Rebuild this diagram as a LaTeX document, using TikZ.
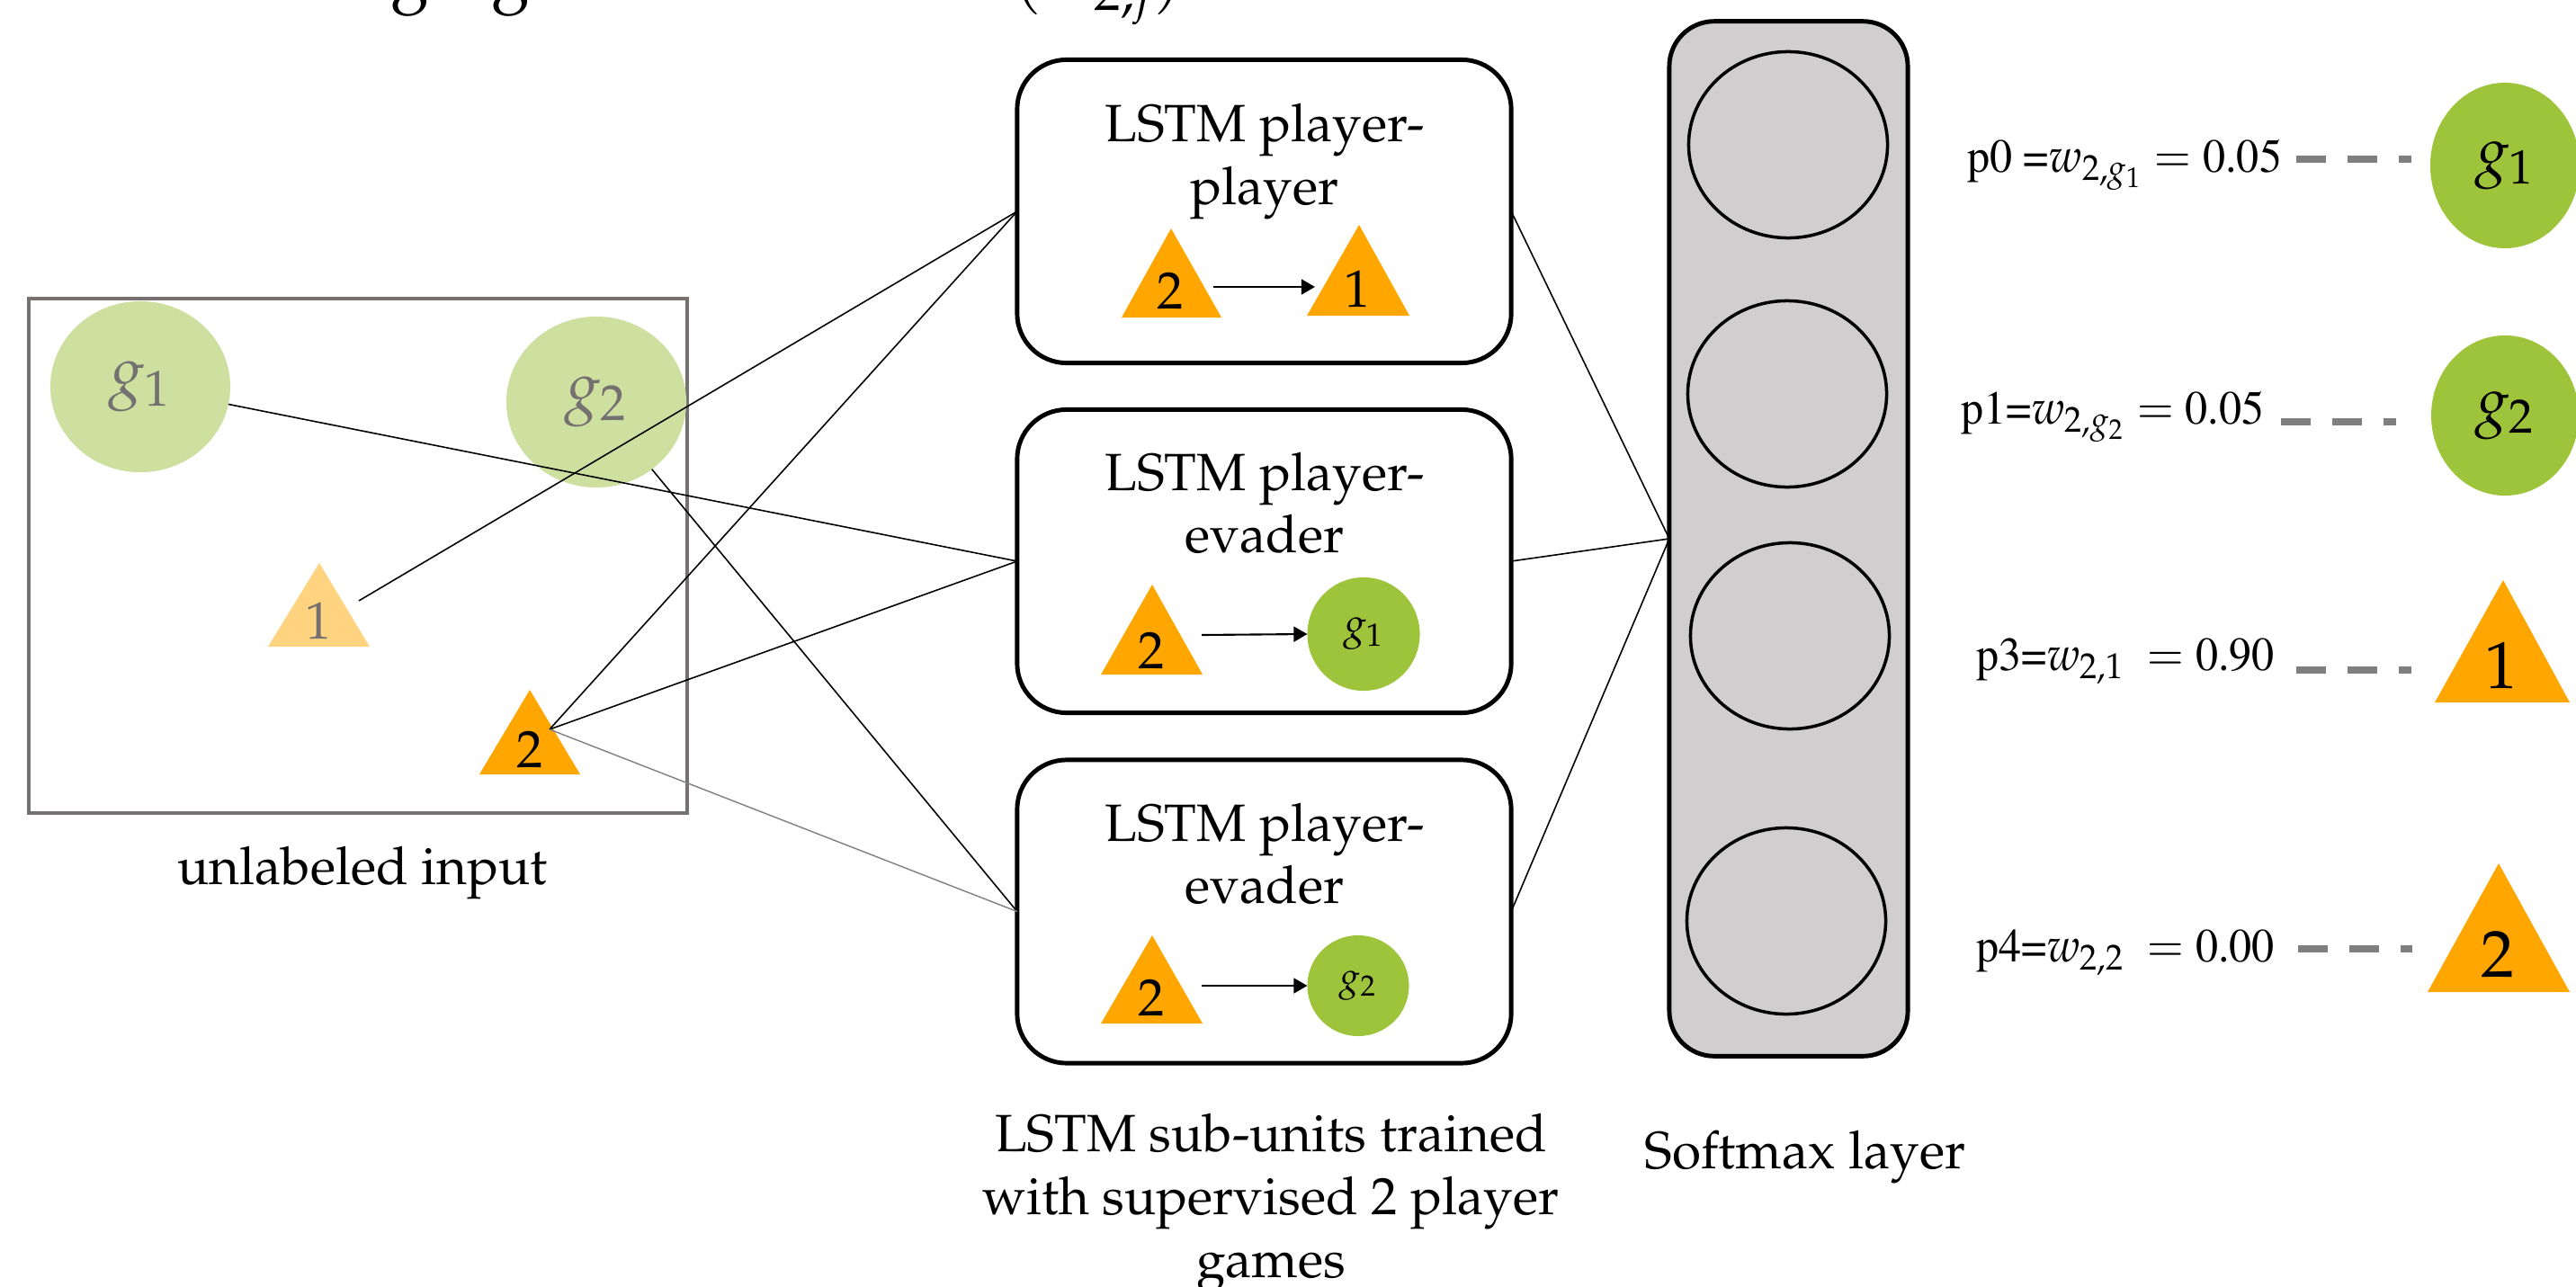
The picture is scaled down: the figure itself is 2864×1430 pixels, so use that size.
\documentclass[tikz,border=0pt]{standalone}
\usepackage[T1]{fontenc}
\usepackage{mathpazo}
\usepackage{graphicx}
\usetikzlibrary{shapes.geometric,arrows.meta}
\definecolor{lgreen}{RGB}{205,224,160}
\definecolor{dgreen}{RGB}{158,196,60}
\definecolor{orng}{RGB}{255,166,0}
\definecolor{lorng}{RGB}{255,211,127}
\definecolor{boxgray}{RGB}{118,113,113}
\definecolor{smgray}{RGB}{208,206,206}
\definecolor{dashgray}{RGB}{127,127,127}
\newcommand{\tmfont}{\fontfamily{ptm}\selectfont}
\begin{document}
\begin{tikzpicture}[x=0.01cm,y=-0.01cm,
  every node/.style={inner sep=0pt,outer sep=0pt},
  maintext/.style={font=\fontsize{16.6}{19.9}\selectfont},
  lstmbox/.style={draw,line width=1.4pt,rounded corners=0.55cm,minimum width=5.49cm,minimum height=3.37cm},
  smbox/.style={draw,line width=1.4pt,rounded corners=0.5cm,fill=smgray,minimum width=2.65cm,minimum height=11.5cm},
  smcirc/.style={draw,ellipse,line width=1pt,minimum width=2.21cm,minimum height=2.07cm},
  lgoal/.style={ellipse,fill=lgreen,text=boxgray,minimum width=2.0cm,minimum height=1.9cm,font=\fontsize{21}{25}\selectfont},
  dgoal/.style={ellipse,fill=dgreen},
  wire/.style={line width=0.45pt},
  wiregray/.style={line width=0.4pt,draw=dashgray},
  arr/.style={line width=0.6pt,-{Triangle[length=4.3pt,width=4.8pt]}},
  dashline/.style={draw=dashgray,line width=2.3pt,dash pattern=on 9.4pt off 6.8pt},
  tri/.style={fill=orng},
  ltri/.style={fill=lorng},
  trinum/.style={font=\fontsize{16.6}{19.9}\selectfont},
  bignum/.style={font=\fontsize{21}{25}\selectfont},
  plabel/.style={anchor=base west,font=\tmfont\fontsize{15}{18}\selectfont},
  titlefrag/.style={font=\fontsize{22}{26}\selectfont}
]
\useasboundingbox (0,0) rectangle (2864,1430);

% cut-off title fragments
\node[titlefrag,anchor=base] (tt1) at (456,-4) {g};
\node[titlefrag,anchor=base] (tt2) at (568,-4) {g};
\node[titlefrag,anchor=base west] (tt3) at (1126,-4) {$(w_{2,j})$};

% input box
\node[draw=boxgray,line width=1.1pt,minimum width=7.32cm,minimum height=5.72cm] (inbox) at (398,618) {};
\node[lgoal] (lg1) at (156,430) {$g_1$};
\node[lgoal] (lg2) at (663,447) {$g_2$};
\fill[ltri] (298,719) -- (411,719) -- (355,626) -- cycle;
\node[trinum,text=boxgray] (in1) at (354,690) {1};
\fill[tri] (533,861) -- (645,861) -- (589,767) -- cycle;
\node[trinum] (in2) at (589,833) {2};
\coordinate (t1p) at (399,668);
\coordinate (t2p) at (611,811);
\node[maintext,anchor=base] (inlab) at (403,983) {unlabeled input};

% LSTM boxes
\node[lstmbox] (b1) at (1405.5,235) {};
\node[lstmbox] (b2) at (1405.5,624) {};
\node[lstmbox] (b3) at (1405.5,1013.5) {};
\node[maintext,align=center] (b1txt) at (1406,180) {LSTM player-\\player};
\node[maintext,align=center] (b2txt) at (1406,559.5) {LSTM player-\\evader};
\node[maintext,align=center] (b3txt) at (1406,949.5) {LSTM player-\\evader};

% box 1 content
\fill[tri] (1247,353) -- (1358,353) -- (1302,254) -- cycle;
\node[trinum] (b1n2) at (1301,323) {2};
\fill[tri] (1453,351) -- (1567,351) -- (1511,250) -- cycle;
\node[trinum] (b1n1) at (1509,321) {1};
\coordinate (a1s) at (1349,319);
\coordinate (a1e) at (1462,319);
\draw[arr] (a1s) -- (a1e);

% box 2 content
\fill[tri] (1224,750) -- (1337,750) -- (1281,650) -- cycle;
\node[trinum] (b2n2) at (1280,723) {2};
\node[dgoal,minimum width=1.25cm,minimum height=1.26cm,font=\fontsize{13.4}{16}\selectfont] (b2g) at (1516,705) {$g_1$};
\coordinate (a2s) at (1336,706);
\draw[arr] (a2s) -- (b2g.west);

% box 3 content
\fill[tri] (1224,1138) -- (1337,1138) -- (1281,1040) -- cycle;
\node[trinum] (b3n2) at (1280,1109) {2};
\node[dgoal,minimum width=1.13cm,minimum height=1.12cm,font=\fontsize{12.2}{15}\selectfont] (b3g) at (1510,1096) {$g_2$};
\coordinate (a3s) at (1336,1096);
\draw[arr] (a3s) -- (b3g.west);

\node[maintext,align=center] (cap) at (1413,1338) {LSTM sub-units trained\\with supervised 2 player\\games};

% softmax
\node[smbox] (sm) at (1988.5,599) {};
\node[smcirc] (c1) at (1988,161) {};
\node[smcirc] (c2) at (1987,438) {};
\node[smcirc] (c3) at (1990,707) {};
\node[smcirc] (c4) at (1986,1024) {};
\node[maintext,anchor=base] (smlab) at (2007,1299) {Softmax layer};

% connectors
\draw[wire] (lg1) -- (b2.west);
\draw[wire] (t1p) -- (b1.west);
\draw[wire] (lg2) -- (b3.west);
\draw[wire] (t2p) -- (b1.west);
\draw[wire] (t2p) -- (b2.west);
\draw[wiregray] (t2p) -- (b3.west);
\draw[wire] (b1.east) -- (sm.west);
\draw[wire] (b2.east) -- (sm.west);
\draw[wire] (b3.east) -- (sm.west);

% right labels
\node[plabel] (l0) at (2187,191) {\scalebox{0.95}[1]{p0 =$w_{2,g_1}$ $=$ 0.05}};
\node[plabel] (l1) at (2180,471) {\scalebox{0.95}[1]{p1=$w_{2,g_2}$ $=$ 0.05}};
\node[plabel] (l3) at (2197,745) {\scalebox{0.95}[1]{p3=$w_{2,1}$\ \ $=$ 0.90}};
\node[plabel] (l4) at (2197,1069) {\scalebox{0.95}[1]{p4=$w_{2,2}$\ \ $=$ 0.00}};

% right shapes
\node[dgoal,minimum width=1.66cm,minimum height=1.84cm,font=\fontsize{20}{24}\selectfont] (rg1) at (2785,184) {$g_1$};
\node[dgoal,minimum width=1.64cm,minimum height=1.78cm,font=\fontsize{20}{24}\selectfont] (rg2) at (2785,462) {$g_2$};
\fill[tri] (2707,781) -- (2857,781) -- (2783,645) -- cycle;
\node[bignum] (rt1) at (2781,740) {1};
\fill[tri] (2699,1103) -- (2857,1103) -- (2778,960) -- cycle;
\node[bignum] (rt2) at (2777,1061) {2};
\coordinate (rt1w) at (2681,745);
\coordinate (rt2w) at (2682,1055);

% dashed links
\draw[dashline] (2553,177) -- (2681,177);
\draw[dashline] (2536,469) -- (2664,469);
\draw[dashline] (2553,745) -- (rt1w);
\draw[dashline] (2555,1055) -- (rt2w);
\end{tikzpicture}
\end{document}
